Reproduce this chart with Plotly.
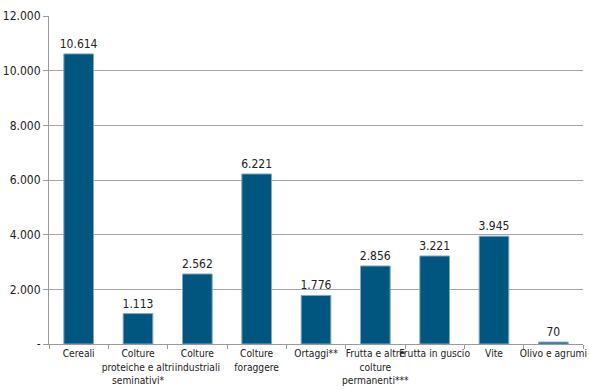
import plotly.graph_objects as go

categories = [
    "Cereali",
    "Colture<br>proteiche e altri<br>seminativi*",
    "Colture<br>industriali",
    "Colture<br>foraggere",
    "Ortaggi**",
    "Frutta e altre<br>colture<br>permanenti***",
    "Frutta in guscio",
    "Vite",
    "Olivo e agrumi",
]
values = [10614, 1113, 2562, 6221, 1776, 2856, 3221, 3945, 70]
y_tickvals = [0, 2000, 4000, 6000, 8000, 10000, 12000]
y_ticktext = ["-", "2.000", "4.000", "6.000", "8.000", "10.000", "12.000"]

FONT = "DejaVu Sans Condensed"


def fmt(v):
    return f"{v:,}".replace(",", ".")


fig = go.Figure(
    go.Bar(
        x=categories,
        y=values,
        text=[fmt(v) for v in values],
        textposition="outside",
        constraintext="none",
        textfont=dict(size=12, color="#222222", family=FONT),
        cliponaxis=False,
        marker=dict(color="#00567E", line=dict(color="#7FA9C4", width=1)),
        width=0.5,
    )
)

fig.update_layout(
    width=589,
    height=390,
    margin=dict(l=49, r=2, t=16, b=46),
    paper_bgcolor="white",
    plot_bgcolor="white",
    showlegend=False,
    font=dict(family=FONT, size=11, color="#222222"),
)

fig.update_xaxes(
    showline=True,
    linecolor="#9a9a9a",
    linewidth=1,
    ticks="outside",
    tickson="boundaries",
    ticklen=4,
    tickcolor="#9a9a9a",
    tickangle=0,
    tickfont=dict(size=10.2, family=FONT, color="#222222"),
    showgrid=False,
)

fig.update_yaxes(
    range=[0, 12000],
    tickvals=y_tickvals,
    ticktext=y_ticktext,
    showline=True,
    linecolor="#9a9a9a",
    linewidth=1,
    ticks="outside",
    ticklen=5,
    tickcolor="#9a9a9a",
    showgrid=True,
    gridcolor="#a6a6a6",
    gridwidth=1,
    zeroline=False,
    tickfont=dict(size=12, family=FONT, color="#222222"),
)

fig.write_html("out.html")
